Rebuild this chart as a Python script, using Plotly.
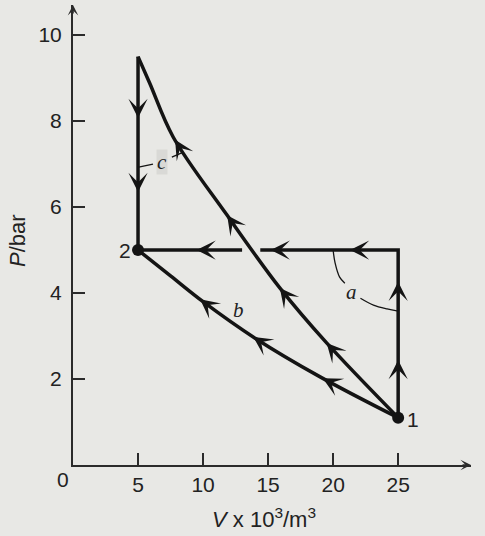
import numpy as np
import plotly.graph_objects as go

INK = '#141414'
AXIS_INK = '#2b2b2b'
PAPER = '#e8e8e5'

# states 1 and 2
state_v = [25, 5]
state_p = [1.1, 5]
state_labels = ['1', '2']

# path a: 1 -> (25, 5) -> 2  (gap where c crosses)
a_v = [25, 25, 14.4, None, 13.0, 5]
a_p = [1.1, 5, 5, None, 5, 5]

# path b: curve 1 -> 2
b_v = [5, 7.5, 10, 14, 19, 25]
b_p = [5, 4.4, 3.8, 2.95, 2.05, 1.1]

# path c: curve 1 -> top, then straight down to 2
c_v = [5, 5.9, 7.7, 11.8, 15.9, 19.5, 25]
c_p = [9.5, 8.88, 7.63, 5.83, 4.12, 2.84, 1.1]
c_drop_v = [5, 5]
c_drop_p = [9.5, 5]

# arrowhead positions
a_up_p = [2.44, 4.26]
a_left_v = [9.5, 15.2, 21.3]
c_down_p = [8.07, 6.35]
c_arrow_v = [7.85, 11.85, 15.9, 19.5]
b_arrow_v = [9.77, 13.85, 19.2]

x_ticks = [5, 10, 15, 20, 25]
x_ticktext = ['5', '10', '15', '20', '25']
y_ticks = [2, 4, 6, 8, 10]
y_ticktext = ['2', '4', '6', '8', '10']

W, H = 485, 536
ML, MR, MT, MB = 73, 14, 5, 71
X_RANGE = [0, 30.6]
Y_RANGE = [0, 10.7]
SX = (W - ML - MR) / (X_RANGE[1] - X_RANGE[0])
SY = (H - MT - MB) / (Y_RANGE[1] - Y_RANGE[0])


def head(x, y, dx, dy, k=8, width=2, size=1.6, color=INK):
    ux, uy = dx * SX, -dy * SY
    n = np.hypot(ux, uy)
    return dict(x=x, y=y, xref='x', yref='y', ax=-ux / n * k, ay=-uy / n * k,
                text='', showarrow=True, arrowhead=3, arrowsize=size,
                arrowwidth=width, arrowcolor=color, standoff=0)


def slope(vs, ps, v):
    return (np.interp(v + 0.3, vs, ps) - np.interp(v - 0.3, vs, ps)) / 0.6


def paper_x(px):
    return (px - ML) / (W - ML - MR)


def paper_y(py):
    return (H - MB - py) / (H - MT - MB)


fig = go.Figure()

line = dict(color=INK, width=3.5)
fig.add_trace(go.Scatter(x=a_v, y=a_p, mode='lines', line=line))
fig.add_trace(go.Scatter(x=b_v, y=b_p, mode='lines', line=dict(line, shape='spline')))
fig.add_trace(go.Scatter(x=c_v, y=c_p, mode='lines', line=dict(line, shape='spline')))
fig.add_trace(go.Scatter(x=c_drop_v, y=c_drop_p, mode='lines', line=line))

# leader for a
fig.add_trace(go.Scatter(x=[20.0, 20.15, 20.5, 20.9], y=[5.0, 4.7, 4.37, 4.23], mode='lines',
                         line=dict(color=INK, width=1.3, shape='spline')))
fig.add_trace(go.Scatter(x=[22.1, 23.1, 24.15, 25.0], y=[3.88, 3.72, 3.63, 3.58], mode='lines',
                         line=dict(color=INK, width=1.3, shape='spline')))
# leader for c
fig.add_trace(go.Scatter(x=[5.05, 6.15, None, 7.6, 8.45], y=[6.93, 7.0, None, 7.16, 7.27], mode='lines',
                         line=dict(color=INK, width=1.3)))

fig.add_trace(go.Scatter(x=state_v, y=state_p, mode='markers',
                         marker=dict(color=INK, size=12)))

ann = []
for p in a_up_p:
    ann.append(head(25, p, 0, 1))
for v in a_left_v:
    ann.append(head(v, 5, -1, 0))
for p in c_down_p:
    ann.append(head(5, p, 0, -1))
for v in c_arrow_v:
    ann.append(head(v, float(np.interp(v, c_v, c_p)), -1, -slope(c_v, c_p, v)))
for v in b_arrow_v:
    ann.append(head(v, float(np.interp(v, b_v, b_p)), -1, -slope(b_v, b_p, v)))

# axis arrow tips
ann.append(head(X_RANGE[1], 0, 1, 0, k=10, width=1.6, size=1.1, color=AXIS_INK))
ann.append(head(0, Y_RANGE[1], 0, 1, k=10, width=1.6, size=1.1, color=AXIS_INK))

num_font = dict(family='Arial, Liberation Sans', size=21, color='#222')
ital_font = dict(family='Liberation Serif, Times New Roman', size=21, color='#222')
title_font = dict(family='Arial, Liberation Sans', size=22, color='#222')

ann.append(dict(x=26.15, y=1.05, text=state_labels[0], showarrow=False, font=num_font))
ann.append(dict(x=4.0, y=5.0, text=state_labels[1], showarrow=False, font=num_font))
ann.append(dict(x=21.45, y=4.02, text='<i>a</i>', showarrow=False, font=ital_font))
ann.append(dict(x=12.7, y=3.6, text='<i>b</i>', showarrow=False, font=ital_font))
ann.append(dict(x=6.85, y=7.05, text='<i>c</i>', showarrow=False, font=ital_font,
                bgcolor='#d9d9d6', borderpad=0))

# origin label and axis titles sit outside the axis ranges -> paper coords
centred = dict(xref='paper', yref='paper', xanchor='center', yanchor='middle', showarrow=False)
ann.append(dict(centred, x=paper_x(63), y=paper_y(479), text='0', font=num_font))
ann.append(dict(centred, x=paper_x(264), y=paper_y(518),
                text='<i>V</i> x 10<sup>3</sup>/m<sup>3</sup>', font=title_font))
ann.append(dict(centred, x=paper_x(18), y=paper_y(241),
                text='<i>P</i>/bar', textangle=-90, font=title_font))

axis_common = dict(showgrid=False, zeroline=False, showline=True, linecolor=AXIS_INK, linewidth=2,
                   ticks='inside', ticklen=12, tickwidth=2, tickcolor=AXIS_INK,
                   tickfont=dict(family='Arial, Liberation Sans', size=21, color='#222'))

fig.update_layout(
    width=W, height=H,
    margin=dict(l=ML, r=MR, t=MT, b=MB, pad=0),
    paper_bgcolor=PAPER,
    plot_bgcolor=PAPER,
    showlegend=False,
    annotations=ann,
    xaxis=dict(axis_common, range=X_RANGE, tickvals=x_ticks, ticktext=x_ticktext, ticklabelstandoff=0),
    yaxis=dict(axis_common, range=Y_RANGE, tickvals=y_ticks, ticktext=y_ticktext, ticklabelstandoff=5),
)

fig.write_html('out.html', config={'displayModeBar': False},
               post_script="document.body.style.margin='0';document.body.style.background='%s';" % PAPER)
